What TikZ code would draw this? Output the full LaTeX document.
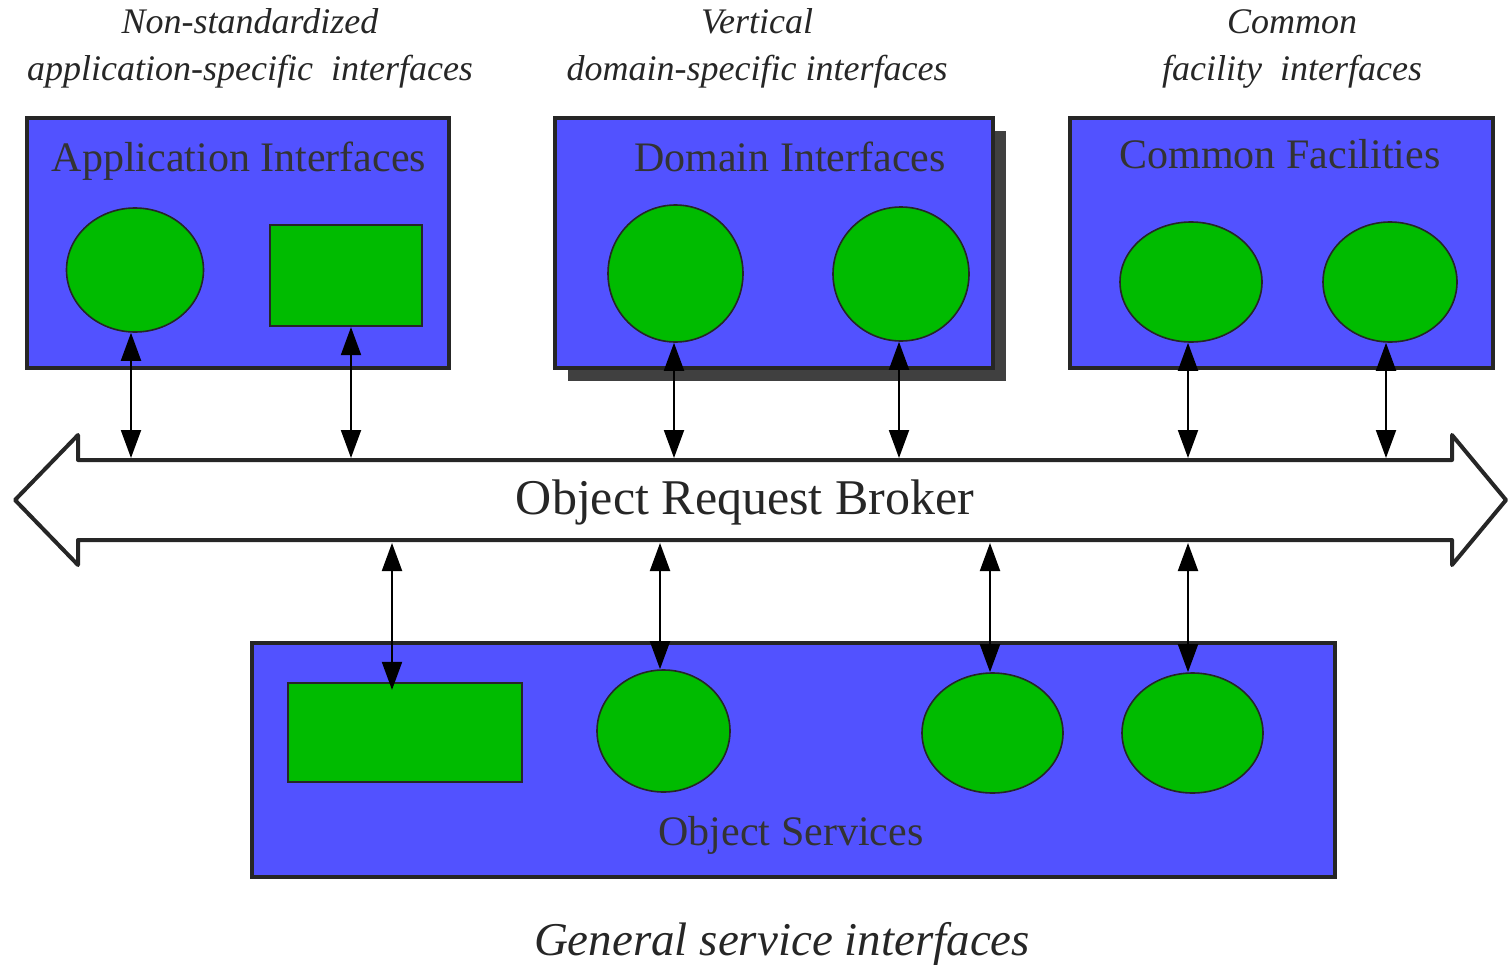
\documentclass[tikz,border=0pt]{standalone}
\usepackage{fontspec}
\setmainfont{Liberation Serif}
\usetikzlibrary{arrows.meta,shapes.geometric}
\definecolor{panelblue}{RGB}{82,82,255}
\definecolor{leafgreen}{RGB}{0,187,0}
\definecolor{edgegray}{RGB}{38,38,38}
\definecolor{shadowgray}{RGB}{64,64,64}
\tikzset{
  panel/.style={rectangle, draw=edgegray, line width=3.5pt, fill=panelblue, inner sep=0pt},
  blob/.style={ellipse, draw=edgegray, line width=1.6pt, fill=leafgreen, inner sep=0pt},
  slab/.style={rectangle, draw=edgegray, line width=2.2pt, fill=leafgreen, inner sep=0pt},
  link/.style={line width=2pt, draw=black,
    {Triangle[width=20pt,length=28pt]}-{Triangle[width=20pt,length=28pt]}},
  caption/.style={align=center, anchor=base, text=black!85,
    font=\fontsize{36}{47}\selectfont\itshape},
  heading/.style={anchor=base, text=black!80, font=\fontsize{42}{48}\selectfont},
}
\begin{document}
\begin{tikzpicture}[x=1pt,y=-1pt]
\useasboundingbox (0,0) rectangle (1510,966);

% category captions (anchored on the baseline of the second line)
\node[caption] (capA) at (250,81) {Non-standardized\\application-specific\ \ interfaces};
\node[caption] (capD) at (757,81) {Vertical\\domain-specific interfaces};
\node[caption] (capC) at (1292,81) {Common\\facility\ \ interfaces};

% application interfaces
\node[panel, minimum width=422pt, minimum height=250pt] (app) at (238,243) {};
\node[heading] (appT) at (239,171) {Application Interfaces};
\node[blob, minimum width=137pt, minimum height=124pt] (a1) at (135,270) {};
\node[slab, minimum width=152pt, minimum height=101pt] (a2) at (346,275.5) {};

% domain interfaces, with drop shadow
\fill[shadowgray] (568,131) rectangle (1006,381);
\node[panel, minimum width=438pt, minimum height=250pt] (dom) at (774,243) {};
\node[heading] (domT) at (790,171) {Domain Interfaces};
\node[blob, minimum width=135pt, minimum height=137pt] (d1) at (675.5,273.5) {};
\node[blob, minimum width=136pt, minimum height=134pt] (d2) at (901,274) {};

% common facilities
\node[panel, minimum width=423pt, minimum height=250pt] (com) at (1281.5,243) {};
\node[heading] (comT) at (1280,168) {Common Facilities};
\node[blob, minimum width=142pt, minimum height=120pt] (c1) at (1191,282) {};
\node[blob, minimum width=134pt, minimum height=120pt] (c2) at (1390,282) {};

% object request broker
\draw[edgegray, line width=4pt, line join=round, fill=white]
  (78,460) -- (1452,460) -- (1452,435) -- (1506,500) -- (1452,565) -- (1452,540)
  -- (78,540) -- (78,565) -- (15,500) -- (78,435) -- cycle;
\node[anchor=base, text=black!85, font=\fontsize{50}{54}\selectfont] (orbT) at (745,514) {Object Request Broker};

% attachment points on the broker
\coordinate (t1) at (131,458);
\coordinate (t2) at (351,458);
\coordinate (t3) at (674,458);
\coordinate (t4) at (899,458);
\coordinate (t5) at (1188,458);
\coordinate (t6) at (1386,458);
\coordinate (b1) at (392,543);
\coordinate (b2) at (660,543);
\coordinate (b3) at (990,543);
\coordinate (b4) at (1188,543);

% object services
\node[panel, minimum width=1083pt, minimum height=234pt] (svc) at (793.5,760) {};
\node[slab, minimum width=234pt, minimum height=99pt] (s1) at (405,732.5) {};
\node[blob, minimum width=133pt, minimum height=122pt] (s2) at (663.5,731) {};
\node[blob, minimum width=141pt, minimum height=120pt] (s3) at (992.5,733) {};
\node[blob, minimum width=141pt, minimum height=120pt] (s4) at (1192.5,733) {};
\node[heading] (svcT) at (791,845) {Object Services};

% connectors to the broker
\draw[link] (t1 |- a1.south) -- (t1);
\draw[link] (t2 |- a2.south) -- (t2);
\draw[link] (t3 |- d1.south) -- (t3);
\draw[link] (t4 |- d2.south) -- (t4);
\draw[link] (t5 |- c1.south) -- (t5);
\draw[link] (t6 |- c2.south) -- (t6);
\draw[link] (b1) -- ([yshift=-8pt]b1 |- s1.north);
\draw[link] (b2) -- (b2 |- s2.north);
\draw[link] (b3) -- (b3 |- s3.north);
\draw[link] (b4) -- (b4 |- s4.north);

% bottom caption
\node[caption, font=\fontsize{47}{52}\selectfont\itshape] (capS) at (782,955) {General service interfaces};
\end{tikzpicture}
\end{document}
